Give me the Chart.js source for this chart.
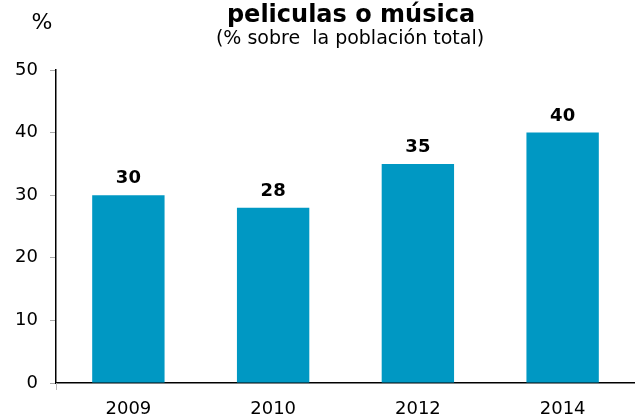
<!DOCTYPE html>
<html><head><meta charset="utf-8">
<script src="https://cdn.jsdelivr.net/npm/chart.js@4"></script>
<style>html,body{margin:0;padding:0;background:#fff}#w{width:635px;height:418px;position:relative}</style>
</head><body><div id="w"><canvas id="c"></canvas></div>
<script>
const categories = ["2009", "2010", "2012", "2014"];
const values = [30, 28, 35, 40];
const yTicks = [0, 10, 20, 30, 40, 50];
const titleText = "peliculas o música";
const subtitleText = "(% sobre  la población total)";
const unitText = "%";

const FONT = "'DejaVu Sans', Verdana, sans-serif";

const labelsPlugin = {
  id: 'labels',
  afterDraw(chart) {
    const ctx = chart.ctx;
    ctx.save();
    ctx.fillStyle = '#000';
    ctx.textAlign = 'center';
    ctx.textBaseline = 'alphabetic';
    ctx.font = "bold 24px " + FONT;
    ctx.fillText(titleText, 351, 22);
    ctx.font = "19px " + FONT;
    ctx.fillText(subtitleText, 350, 44);
    ctx.font = "22px " + FONT;
    ctx.fillText(unitText, 42, 29);
    ctx.font = "bold 18px " + FONT;
    const meta = chart.getDatasetMeta(0);
    meta.data.forEach((bar, i) => {
      ctx.fillText(String(values[i]), bar.x, bar.y - 12);
    });
    // small tick below axis origin
    ctx.strokeStyle = '#bbb';
    ctx.lineWidth = 1;
    const x0 = chart.chartArea.left, yb = chart.chartArea.bottom;
    ctx.beginPath(); ctx.moveTo(x0 + 0.5, yb); ctx.lineTo(x0 + 0.5, yb + 7); ctx.stroke();
    ctx.restore();
  }
};

new Chart(document.getElementById('c'), {
  type: 'bar',
  data: {
    labels: categories,
    datasets: [{ data: values, backgroundColor: '#0098C3', borderWidth: 0,
      categoryPercentage: 1, barPercentage: 0.5 }]
  },
  options: {
    responsive: true, maintainAspectRatio: false, animation: false,
    layout: { padding: { top: 70, right: 0, left: 0, bottom: 0 } },
    plugins: { legend: { display: false }, tooltip: { enabled: false }, title: { display: false } },
    scales: {
      x: {
        grid: { display: false, drawTicks: false },
        border: { display: true, color: '#000', width: 1.5 },
        ticks: { color: '#000', font: { family: FONT, size: 18 }, padding: 16, maxRotation: 0 },
        afterFit(s) { s.height = 35; }
      },
      y: {
        min: 0, max: 50,
        afterBuildTicks(s) { s.ticks = yTicks.map(v => ({ value: v })); },
        grid: { drawOnChartArea: false, drawTicks: true, tickLength: 6, color: '#aaa' },
        border: { display: true, color: '#000', width: 1.5 },
        ticks: { color: '#000', font: { family: FONT, size: 18 }, padding: 12 },
        afterFit(s) { s.width = 56; }
      }
    }
  },
  plugins: [labelsPlugin]
});
</script></body></html>
